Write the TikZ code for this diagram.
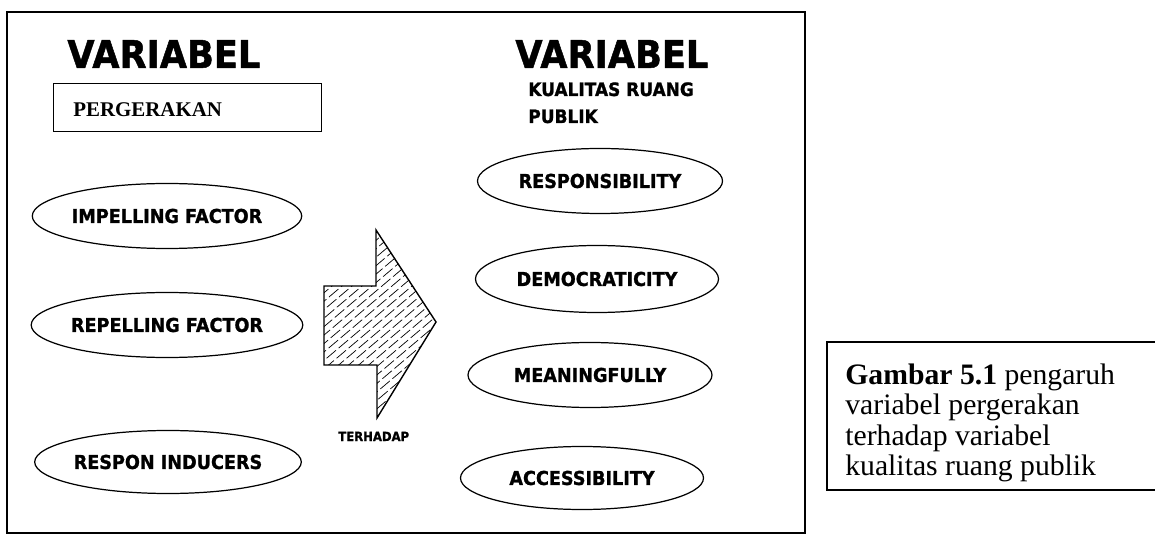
\documentclass[tikz,border=0pt]{standalone}
\usepackage{fontspec}
\setmainfont{Liberation Serif}
\newfontfamily\vfont{DejaVu Sans}[FakeStretch=0.92,FakeBold=1.2]
\usetikzlibrary{shapes.geometric}
\begin{document}
\begin{tikzpicture}[x=0.02cm,y=-0.02cm,
  oval/.style={draw,ellipse,line width=0.7pt,inner sep=0pt,
    font={\vfont\bfseries\fontsize{10.9}{13}\selectfont}},
  bigtitle/.style={inner sep=0pt,anchor=base west,
    font={\vfont\bfseries\fontsize{21.8}{26}\selectfont}},
  subtitle/.style={inner sep=0pt,anchor=base west,
    font={\vfont\bfseries\fontsize{10.5}{13}\selectfont}},
  smalllabel/.style={inner sep=0pt,anchor=base west,
    font={\vfont\bfseries\fontsize{7.2}{9}\selectfont}},
  serifbox/.style={draw,line width=0.8pt,inner sep=0pt},
  hatch/.style={line width=0.4pt,dash pattern=on 7pt off 2pt}]
\useasboundingbox (0,0) rectangle (1155,536);
% main frame
\draw[line width=0.9pt] (7,12) rectangle (805,533);
% left title
\node[bigtitle] (vl) at (67,68) {VARIABEL};
\node[serifbox,minimum width=268*0.02cm,minimum height=48*0.02cm,anchor=north west] (pbox) at (53,83) {};
\node[inner sep=0pt,anchor=base west,font={\bfseries\fontsize{11.9}{14}\selectfont}] (pg) at (73,117) {PERGERAKAN};
% right title
\node[bigtitle] (vr) at (515,68) {VARIABEL};
\node[subtitle] (kr) at (528,96) {KUALITAS RUANG};
\node[subtitle] (pb) at (528,123) {PUBLIK};
% left ovals
\node[oval,minimum width=247*0.02cm,minimum height=65*0.02cm] (imp) at (167,216) {IMPELLING FACTOR};
\node[oval,minimum width=247*0.02cm,minimum height=65*0.02cm] (rep) at (167,325) {REPELLING FACTOR};
\node[oval,minimum width=243*0.02cm,minimum height=63*0.02cm] (ind) at (168,462) {RESPON INDUCERS};
% right ovals
\node[oval,minimum width=245*0.02cm,minimum height=65*0.02cm] (rsb) at (600,181) {RESPONSIBILITY};
\node[oval,minimum width=243*0.02cm,minimum height=67*0.02cm] (dem) at (597,279) {DEMOCRATICITY};
\node[oval,minimum width=244*0.02cm,minimum height=65*0.02cm] (mea) at (590,375) {MEANINGFULLY};
\node[oval,minimum width=243*0.02cm,minimum height=63*0.02cm] (acc) at (582,478) {ACCESSIBILITY};
% big arrow
\begin{scope}
\clip (324,286) -- (376,286) -- (376,230) -- (436,322) -- (377,418) -- (377,365) -- (324,365) -- cycle;
\foreach \k in {0,10,...,460} {
  \draw[hatch] (\k,440) -- ({\k+260},220);
}
\end{scope}
\draw[line width=0.8pt,line join=miter] (324,286) -- (376,286) -- (376,230) -- (436,322) -- (377,418) -- (377,365) -- (324,365) -- cycle;
\node[smalllabel] (ter) at (338,441) {TERHADAP};
% caption box
\draw[line width=0.8pt] (1160,342) -- (827,342) -- (827,490) -- (1160,490);
\node[inner sep=0pt,anchor=north west,align=left,font={\fontsize{16.9}{17.1}\selectfont}] (cap) at (845,364)
  {{\bfseries Gambar 5.1} pengaruh\\variabel pergerakan\\terhadap variabel\\kualitas ruang publik};
\end{tikzpicture}
\end{document}
